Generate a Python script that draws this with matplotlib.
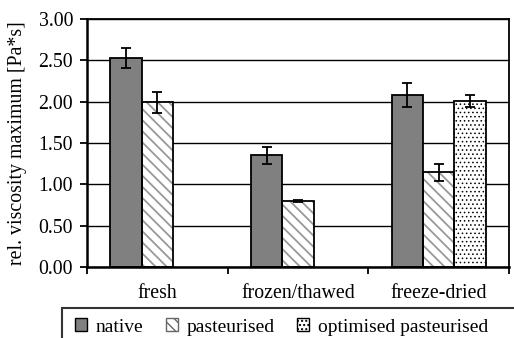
import matplotlib
matplotlib.use("Agg")
import matplotlib.pyplot as plt
from matplotlib.patches import Rectangle, Patch
import numpy as np

categories = ["fresh", "frozen/thawed", "freeze-dried"]
series_names = ["native", "pasteurised", "optimised pasteurised"]
native = [2.53, 1.35, 2.08]
native_err = [0.12, 0.10, 0.15]
pasteurised = [1.99, 0.80, 1.145]
pasteurised_err = [0.13, 0.01, 0.10]
optimised = [np.nan, np.nan, 2.01]
optimised_err = [np.nan, np.nan, 0.07]
yticks = [0.0, 0.5, 1.0, 1.5, 2.0, 2.5, 3.0]

plt.rcParams['font.family'] = ['Liberation Serif', 'DejaVu Serif']
plt.rcParams['font.size'] = 14.3

fig = plt.figure(figsize=(5.14, 3.38), dpi=100)
ax = fig.add_axes([87/514, 1-267/338, (509-87)/514, (267-19)/338])

x = np.arange(len(categories)) + 0.5
w = 0.222

ax.set_axisbelow(True)
ax.yaxis.grid(True, color='black', linewidth=1.0)

def draw(vals, errs, off, face, hatch, hcolor, hlw):
    xs = x + off
    with plt.rc_context({'hatch.linewidth': hlw}):
        bars = ax.bar(xs, vals, w, color=face, hatch=hatch, edgecolor=hcolor, linewidth=0, zorder=2)
        for b in bars:
            if hasattr(b, 'set_hatch_linewidth'):
                b.set_hatch_linewidth(hlw)
    ax.bar(xs, vals, w, fill=False, edgecolor='black', linewidth=1.3, zorder=3)
    ax.errorbar(xs, vals, yerr=errs, fmt='none', ecolor='black', elinewidth=1.3,
                capsize=3.5, capthick=1.3, zorder=4)

draw(native, native_err, -w, '#808080', None, '#808080', 1.3)
draw(pasteurised, pasteurised_err, 0, 'white', '\\\\\\', '#999999', 1.3)
draw(optimised, optimised_err, w, 'white', '....', 'black', 0.6)

ax.set_xlim(0, 3)
ax.set_ylim(0, 3)
ax.set_yticks(yticks)
ax.set_yticklabels([f"{v:.2f}" for v in yticks])
ax.set_xticks([0, 1, 2, 3])
ax.set_xticklabels([])
ax.set_xticks(x, minor=True)
ax.set_xticklabels(categories, minor=True)
ax.tick_params(axis='x', which='major', direction='out', length=5, width=1.3)
ax.tick_params(axis='x', which='minor', length=0, pad=12)
ax.tick_params(axis='y', direction='out', length=5, width=1.3, pad=5)

for s in ['left', 'bottom']:
    ax.spines[s].set_linewidth(1.8)
for s in ['top', 'right']:
    ax.spines[s].set_linewidth(1.3)

ax.set_ylabel("rel. viscosity maximum [Pa*s]", labelpad=8)

with plt.rc_context({'hatch.linewidth': 1.0}):
    handles = [
        Patch(facecolor='#808080', edgecolor='black', linewidth=1.0),
        Patch(facecolor='white', edgecolor='#666666', hatch='\\\\\\', linewidth=1.0),
    ]
with plt.rc_context({'hatch.linewidth': 0.6}):
    handles.append(Patch(facecolor='white', edgecolor='black', hatch='....', linewidth=1.0))
    if hasattr(handles[-1], 'set_hatch_linewidth'):
        handles[-1].set_hatch_linewidth(0.6)
leg = fig.legend(handles, series_names, loc='center left', bbox_to_anchor=(75/514, 1-327/338),
                 ncol=3, frameon=False, handlelength=0.62, handleheight=0.62,
                 handletextpad=0.45, columnspacing=1.15, borderaxespad=0, borderpad=0,
                 fontsize=14)
fig.add_artist(Rectangle((62/514, -0.1), 1.0, 0.1 + (338-308)/338, transform=fig.transFigure,
                         fill=False, edgecolor='#333333', linewidth=1.5))

fig.savefig("out.png", dpi=100)
